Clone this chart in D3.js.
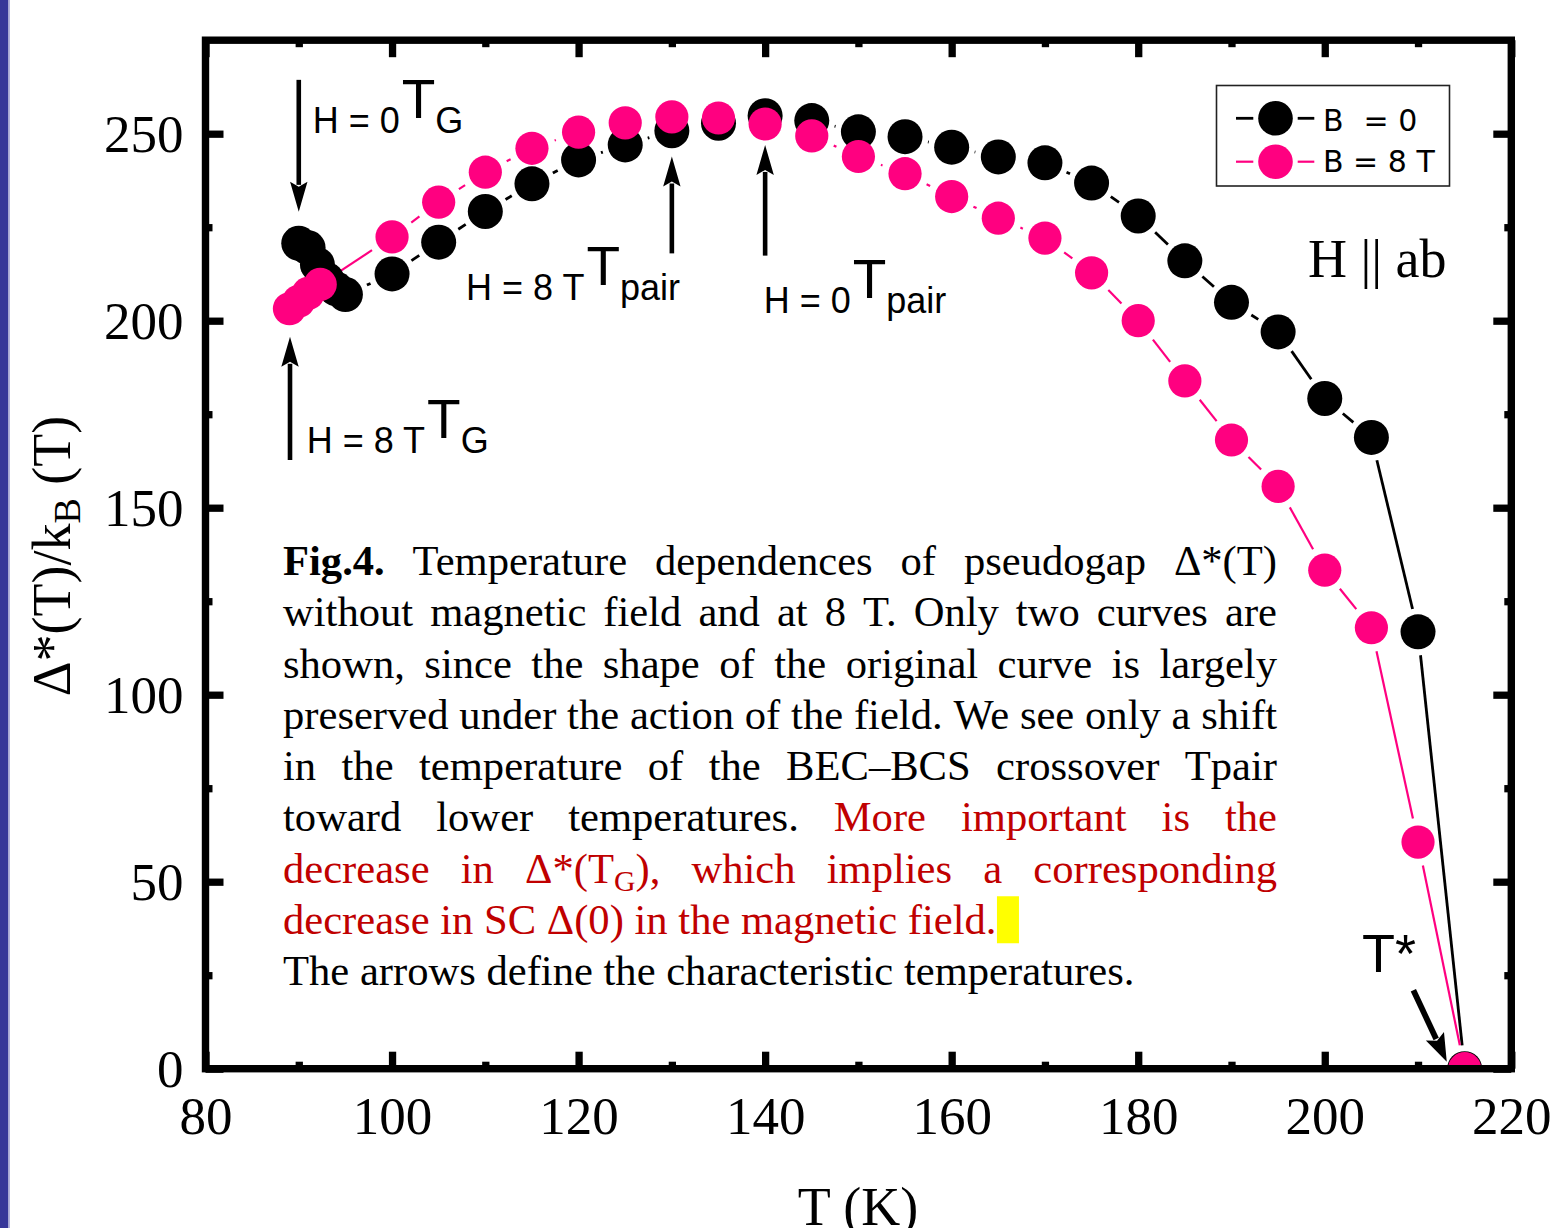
<!DOCTYPE html>
<html><head><meta charset="utf-8">
<script src="https://cdn.jsdelivr.net/npm/d3@7"></script>
<style>
html,body{margin:0;padding:0;background:#fff;}
svg{display:block;}
</style></head>
<body>
<svg id="chart" width="1554" height="1228"></svg>
<script>
// ---------------- DATA ----------------
const tempB0 = [90, 91, 92, 93, 94, 95, 100, 105, 110, 115, 120, 125, 130, 135, 140, 145, 150, 155, 160, 165, 170, 175, 180, 185, 190, 195, 200, 205, 210, 215];
const gapB0  = [220.7, 219.5, 215, 211, 208.5, 207, 212.5, 221, 229.2, 236.6, 243, 247, 250.8, 252.8, 254.8, 253.5, 250.5, 249.2, 246.4, 243.8, 242.2, 236.8, 228, 216, 204.9, 197, 179.2, 168.8, 116.8, 0];
const tempB8 = [89, 90, 91, 92.3, 100, 105, 110, 115, 120, 125, 130, 135, 140, 145, 150, 155, 160, 165, 170, 175, 180, 185, 190, 195, 200, 205, 210, 215];
const gapB8  = [203.2, 205.2, 207.3, 209.7, 222.4, 231.7, 239.7, 246.1, 250.4, 252.9, 254.5, 254.2, 252.6, 249.4, 243.9, 239.3, 233.2, 227.4, 222.1, 212.8, 200, 183.9, 168.1, 155.7, 133.3, 117.9, 60.6, 0];

const seriesNames = ["B  = 0", "B = 8 T"];
const xTicksMajor = [80, 100, 120, 140, 160, 180, 200, 220];
const xTicksMinor = [90, 110, 130, 150, 170, 190, 210];
const yTicksMajor = [0, 50, 100, 150, 200, 250];
const yTicksMinor = [25, 75, 125, 175, 225];

// annotation arrows (data coordinates: [T, value])
const arrowFrom = [[90, 264.4], [89.06, 162.75], [130, 218], [140, 217.4], [209.5, 21.0]];
const arrowTo   = [[90, 229.1], [89.06, 195.7], [130, 243.9], [140, 247], [213.08, 1.87]];
// field labels
const labelAt   = [[91.49, 250.2], [90.85, 164.6], [107.93, 205.5], [139.84, 202]];
const labelPre  = ["H = 0", "H = 8 T", "H = 8 T", "H = 0"];
const labelSub  = ["G", "G", "pair", "pair"];

const captionLines = [
  [{t: "Fig.4.", b: 1}, {t: "Temperature dependences of pseudogap Δ*(T)"}],
  [{t: "without magnetic field and at 8 T. Only two curves are"}],
  [{t: "shown, since the shape of the original curve is largely"}],
  [{t: "preserved under the action of the field. We see only a shift"}],
  [{t: "in the temperature of the BEC–BCS crossover Tpair"}],
  [{t: "toward lower temperatures."}, {t: "More important is the", r: 1}],
  [{t: "decrease in Δ*(T_{G}), which implies a corresponding", r: 1}],
  [{t: "decrease in SC Δ(0) in the magnetic field.", r: 1}],
  [{t: "The arrows define the characteristic temperatures."}]
];
const captionJustify = [1, 1, 1, 1, 1, 1, 1, 0, 0];

// ---------------- LAYOUT ----------------
const W = 1554, H = 1228;
const M = {left: 205.5, right: 1511.3, top: 40.2, bottom: 1068.7};
const SERIF = "'Liberation Serif','Times New Roman',Times,serif";
const SANS = "'Liberation Sans',Arial,Helvetica,sans-serif";
const DEJAVU = "'DejaVu Sans',Verdana,sans-serif";
const BLACK = "#000", PINK = "#ff0080", RED = "#c00000";

const svg = d3.select("#chart");
const x = d3.scaleLinear().domain([80, 220]).range([M.left, M.right]);
const y = d3.scaleLinear().domain([0, 275]).range([M.bottom, M.top]);

svg.append("rect").attr("width", W).attr("height", H).attr("fill", "#fff");
svg.append("rect").attr("x", 0).attr("y", 0).attr("width", 8.5).attr("height", H).attr("fill", "#363699");
svg.append("rect").attr("x", 8.5).attr("y", 0).attr("width", 1.5).attr("height", H).attr("fill", "#b4b4dc");

svg.append("defs").append("clipPath").attr("id", "plotclip")
  .append("rect").attr("x", M.left).attr("y", M.top)
  .attr("width", M.right - M.left).attr("height", M.bottom - M.top);

// ---------------- CAPTION ----------------
const capX0 = 283, capX1 = 1277, capY0 = 575, capLH = 51.25, capFS = 42.6;
const capG = svg.append("g");
captionLines.forEach((line, i) => {
  const words = [];
  line.forEach(seg => seg.t.split(" ").forEach(w => { if (w) words.push({w, b: seg.b, r: seg.r}); }));
  const by = capY0 + i * capLH;
  const els = words.map(wd => {
    const t = capG.append("text").attr("y", by)
      .attr("font-family", SERIF).attr("font-size", capFS)
      .attr("font-weight", wd.b ? "bold" : "normal")
      .attr("fill", wd.r ? RED : BLACK);
    const parts = wd.w.split(/(_\{[^}]*\})/);
    let lowered = false;
    parts.forEach(p => {
      if (!p) return;
      if (p.startsWith("_{")) {
        t.append("tspan").attr("font-size", capFS * 0.7).attr("dy", 8).text(p.slice(2, -1));
        lowered = true;
      } else {
        const ts = t.append("tspan").text(p);
        if (lowered) { ts.attr("dy", -8); lowered = false; }
      }
    });
    return t;
  });
  const widths = els.map(e => e.node().getComputedTextLength());
  const total = d3.sum(widths);
  const sp = captionJustify[i] && els.length > 1 ? (capX1 - capX0 - total) / (els.length - 1) : capFS * 0.25;
  let cx = capX0;
  els.forEach((e, k) => { e.attr("x", cx); cx += widths[k] + sp; });
  if (i === 7) {
    const endX = capX0 + total + sp * (els.length - 1);
    capG.insert("rect", ":first-child").attr("x", endX + 0.5).attr("y", by - 37.5)
      .attr("width", 22).attr("height", 47).attr("fill", "#ffff00");
  }
});

// ---------------- SERIES ----------------
const plot = svg.append("g").attr("clip-path", "url(#plotclip)");
function gapSegments(xs, vs, gap) {
  const pts = xs.map((t, i) => [x(t), y(vs[i])]);
  const segs = [];
  for (let i = 0; i < pts.length - 1; i++) {
    const [x1, y1] = pts[i], [x2, y2] = pts[i + 1];
    const dx = x2 - x1, dy = y2 - y1, d = Math.hypot(dx, dy);
    if (d > 2 * gap + 0.5) {
      const ux = dx / d, uy = dy / d;
      segs.push([x1 + ux * gap, y1 + uy * gap, x2 - ux * gap, y2 - uy * gap]);
    }
  }
  return segs;
}
const series = [
  {t: tempB0, v: gapB0, color: BLACK, lw: 2.8, r: 17.5, gap: 23.5},
  {t: tempB8, v: gapB8, color: PINK, lw: 2.2, r: 16.6, gap: 24}
];
series.forEach(s => {
  plot.append("g").selectAll("line").data(gapSegments(s.t, s.v, s.gap)).join("line")
    .attr("x1", d => d[0]).attr("y1", d => d[1]).attr("x2", d => d[2]).attr("y2", d => d[3])
    .attr("stroke", s.color).attr("stroke-width", s.lw);
});
series.forEach(s => {
  plot.append("g").selectAll("circle").data(s.t.map((t, i) => [t, s.v[i]])).join("circle")
    .attr("cx", d => x(d[0])).attr("cy", d => y(d[1])).attr("r", s.r).attr("fill", s.color);
});

// ---------------- AXES ----------------
function styleAxis(g, lw) {
  g.select(".domain").remove();
  g.selectAll(".tick line").attr("stroke", BLACK).attr("stroke-width", lw);
  g.selectAll(".tick text").attr("font-family", SERIF).attr("font-size", 53).attr("fill", BLACK);
}
const gxB = svg.append("g").attr("transform", `translate(0,${M.bottom})`)
  .call(d3.axisBottom(x).tickValues(xTicksMajor).tickSizeInner(-17).tickSizeOuter(0).tickPadding(28).tickFormat(d3.format("d")));
styleAxis(gxB, 7.3);
const gxBm = svg.append("g").attr("transform", `translate(0,${M.bottom})`)
  .call(d3.axisBottom(x).tickValues(xTicksMinor).tickSizeInner(-7).tickSizeOuter(0).tickFormat(""));
styleAxis(gxBm, 7.3);
const gxT = svg.append("g").attr("transform", `translate(0,${M.top})`)
  .call(d3.axisTop(x).tickValues(xTicksMajor).tickSizeInner(-17).tickSizeOuter(0).tickFormat(""));
styleAxis(gxT, 7.3);
const gxTm = svg.append("g").attr("transform", `translate(0,${M.top})`)
  .call(d3.axisTop(x).tickValues(xTicksMinor).tickSizeInner(-7).tickSizeOuter(0).tickFormat(""));
styleAxis(gxTm, 7.3);
const gyL = svg.append("g").attr("transform", `translate(${M.left},0)`)
  .call(d3.axisLeft(y).tickValues(yTicksMajor).tickSizeInner(-18).tickSizeOuter(0).tickPadding(22).tickFormat(d3.format("d")));
styleAxis(gyL, 7.3);
gyL.selectAll(".tick text").attr("dy", "0.34em");
const gyLm = svg.append("g").attr("transform", `translate(${M.left},0)`)
  .call(d3.axisLeft(y).tickValues(yTicksMinor).tickSizeInner(-7).tickSizeOuter(0).tickFormat(""));
styleAxis(gyLm, 7.3);
const gyR = svg.append("g").attr("transform", `translate(${M.right},0)`)
  .call(d3.axisRight(y).tickValues(yTicksMajor).tickSizeInner(-18).tickSizeOuter(0).tickFormat(""));
styleAxis(gyR, 7.3);
const gyRm = svg.append("g").attr("transform", `translate(${M.right},0)`)
  .call(d3.axisRight(y).tickValues(yTicksMinor).tickSizeInner(-7).tickSizeOuter(0).tickFormat(""));
styleAxis(gyRm, 7.3);

svg.append("rect").attr("x", M.left).attr("y", M.top)
  .attr("width", M.right - M.left).attr("height", M.bottom - M.top)
  .attr("fill", "none").attr("stroke", BLACK).attr("stroke-width", 7.4);

// axis titles
const yt = svg.append("text").attr("transform", `translate(70,556) rotate(-90)`)
  .attr("text-anchor", "middle").attr("font-family", SERIF).attr("font-size", 54).attr("fill", BLACK);
yt.append("tspan").text("Δ*(T)/k");
yt.append("tspan").attr("font-size", 38).attr("dy", 10).text("B");
yt.append("tspan").attr("dy", -10).text(" (T)");
svg.append("text").attr("x", 858).attr("y", 1225).attr("text-anchor", "middle")
  .attr("font-family", SERIF).attr("font-size", 54).attr("fill", BLACK).text("T (K)");

// ---------------- ANNOTATIONS ----------------
function arrow(p0, p1, shaft, headL, headW) {
  const x0 = x(p0[0]), y0 = y(p0[1]), x1 = x(p1[0]), y1 = y(p1[1]);
  const dx = x1 - x0, dy = y1 - y0, d = Math.hypot(dx, dy), ux = dx / d, uy = dy / d;
  const bx = x1 - ux * headL, by = y1 - uy * headL;
  svg.append("line").attr("x1", x0).attr("y1", y0).attr("x2", bx + ux * 3).attr("y2", by + uy * 3)
    .attr("stroke", BLACK).attr("stroke-width", shaft);
  const nx = -uy, ny = ux;
  svg.append("path").attr("d", `M${x1},${y1}L${bx + nx * headW},${by + ny * headW}L${bx + ux * 5},${by + uy * 5}L${bx - nx * headW},${by - ny * headW}Z`)
    .attr("fill", BLACK);
}
arrowFrom.forEach((p, i) => {
  if (i < 4) arrow(p, arrowTo[i], 4.6, 30, 8.7);
  else arrow(p, arrowTo[i], 5.8, 28, 10);
});

labelAt.forEach((p, i) => {
  const t = svg.append("text").attr("x", x(p[0])).attr("y", y(p[1]))
    .attr("font-family", SANS).attr("font-size", 36).attr("fill", BLACK);
  t.append("tspan").text(labelPre[i]);
  t.append("tspan").attr("font-size", 55).attr("dx", 2).attr("dy", -15).text("T");
  t.append("tspan").attr("font-size", 36).attr("dy", 15).text(labelSub[i]);
});

svg.append("text").attr("x", x(204.0)).attr("y", y(25.9))
  .attr("font-family", SANS).attr("font-size", 54).attr("fill", BLACK).text("T*");
svg.append("text").attr("x", x(198.2)).attr("y", y(211.8))
  .attr("font-family", SERIF).attr("font-size", 54).attr("fill", BLACK).text("H || ab");

// ---------------- LEGEND ----------------
const lg = svg.append("g");
lg.append("rect").attr("x", 1216.5).attr("y", 85.5).attr("width", 233).attr("height", 100.5)
  .attr("fill", "#fff").attr("stroke", "#222").attr("stroke-width", 1.6);
const legendRows = [118.3, 161.7];
series.forEach((s, i) => {
  const ry = legendRows[i];
  lg.append("line").attr("x1", 1236).attr("x2", 1253.3).attr("y1", ry).attr("y2", ry)
    .attr("stroke", s.color).attr("stroke-width", s.lw);
  lg.append("line").attr("x1", 1297.7).attr("x2", 1314.3).attr("y1", ry).attr("y2", ry)
    .attr("stroke", s.color).attr("stroke-width", s.lw);
  lg.append("circle").attr("cx", 1275.5).attr("cy", ry).attr("r", 17.3).attr("fill", s.color);
});
lg.append("text").attr("x", 1323).attr("y", 131).attr("font-family", DEJAVU).attr("font-size", 30).text("B");
lg.append("text").attr("x", 1363.5).attr("y", 131).attr("font-family", DEJAVU).attr("font-size", 30).text("= 0");
lg.append("text").attr("x", 1323).attr("y", 172).attr("font-family", DEJAVU).attr("font-size", 30).text(seriesNames[1]);
</script>
</body></html>
